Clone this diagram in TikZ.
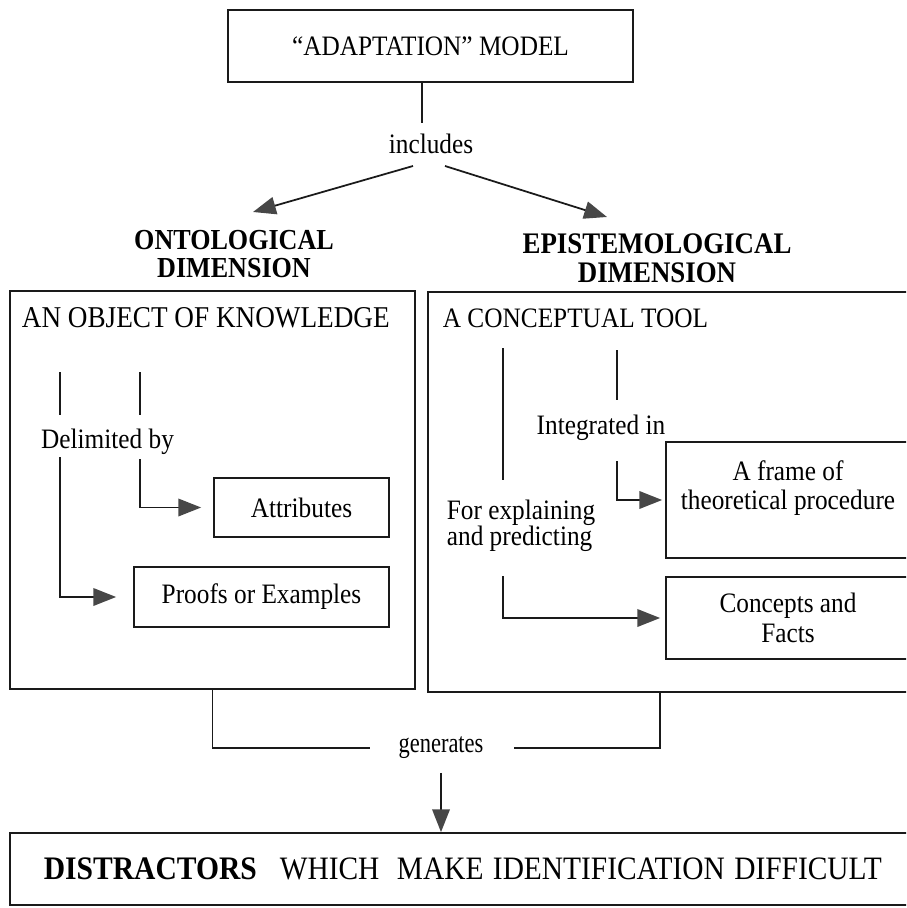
\documentclass[tikz,border=0pt]{standalone}
\usepackage{fontspec}
\setmainfont{Liberation Serif}[FakeStretch=0.9]
\newfontfamily\narrowfont{Liberation Serif}[FakeStretch=0.8]
\usetikzlibrary{arrows.meta,positioning}
\definecolor{adaptink}{HTML}{1A1A1A}
\definecolor{adapttip}{HTML}{474747}

\begin{document}
\begin{tikzpicture}[x=0.02cm,y=-0.02cm,line width=1pt,
    font=\fontsize{16}{17}\selectfont,
    box/.style={draw=adaptink,inner sep=0pt,align=center},
    lbl/.style={inner sep=0pt,align=center},
    head/.style={lbl,font=\fontsize{16.5}{16}\selectfont\bfseries},
    arr/.style={draw=adaptink,-{Triangle[length=13pt,width=10pt,color=adapttip]}}]
  \clip (0,0) rectangle (906,908);
  % top of the model
  \node[box,minimum width=8.1cm,minimum height=1.44cm] (model) at (430.5,46) {“ADAPTATION” MODEL};
  \node[lbl] (incl) at (431,144) {includes};
  \coordinate (inclTop) at (422,123);
  \draw[adaptink] (inclTop |- model.south) -- (inclTop);
  \coordinate (inclL) at (413,166);
  \coordinate (inclR) at (445,166);
  \coordinate (ontoTip) at (253,212);
  \coordinate (epiTip) at (607,217);
  \draw[arr] (inclL) -- (ontoTip);
  \draw[arr] (inclR) -- (epiTip);
  \node[head] (onto) at (234,254) {ONTOLOGICAL\\DIMENSION};
  \node[head,font=\fontsize{17}{16.5}\selectfont\bfseries] (epi) at (657,258) {EPISTEMOLOGICAL\\DIMENSION};
  % the two dimensions
  \node[box,minimum width=8.1cm,minimum height=7.96cm] (leftbox) at (212.5,490) {};
  \node[box,minimum width=9.74cm,minimum height=8cm] (rightbox) at (671.5,492) {};
  \node[lbl,anchor=west,font=\fontsize{17.2}{18}\selectfont] (object) at (21,318) {AN OBJECT OF KNOWLEDGE};
  \node[lbl,anchor=west] (tool) at (442,318) {A CONCEPTUAL TOOL};
  % ontological side
  \node[lbl] (delim) at (107.5,442) {Delimited by};
  \coordinate (delimA) at (60,372);
  \coordinate (delimB) at (140,372);
  \coordinate (delimC) at (60,457);
  \coordinate (delimD) at (140,459);
  \draw[adaptink] (delimA) -- ++(0,43);
  \draw[adaptink] (delimB) -- ++(0,43);
  \node[box,minimum width=3.5cm,minimum height=1.18cm] (attr) at (301.5,507.5) {Attributes};
  \node[box,minimum width=5.1cm,minimum height=1.2cm] (proofs) at (261.5,597) {Proofs or Examples};
  \draw[arr,shorten >=0.24cm] (delimD) |- (attr.west);
  \draw[arr,shorten >=0.34cm] (delimC) |- (proofs.west);
  % epistemological side
  \node[lbl] (integ) at (601,428) {Integrated in};
  \coordinate (explA) at (503,348);
  \coordinate (integA) at (617,350);
  \coordinate (integB) at (617,461);
  \coordinate (explB) at (503,576);
  \draw[adaptink] (explA) -- ++(0,132);
  \draw[adaptink] (integA) -- ++(0,50);
  \node[lbl,anchor=west,align=left,font=\fontsize{16}{15}\selectfont] (expl) at (446,526) {For explaining\\and predicting};
  \node[box,minimum width=4.88cm,minimum height=2.32cm] (frame) at (788,500) {A frame of\\theoretical procedure\\\mbox{}};
  \node[box,minimum width=4.88cm,minimum height=1.64cm] (concepts) at (788,618) {Concepts and\\Facts};
  \draw[arr,shorten >=0.06cm] (integB) |- (frame.west);
  \draw[arr,shorten >=0.1cm] (explB) |- (concepts.west);
  % what both generate
  \node[lbl,font=\narrowfont\fontsize{16}{17}\selectfont] (gen) at (441,748) {generates};
  \coordinate (genR) at (660,692);
  \draw[adaptink] (leftbox.south) |- ([xshift=-0.55cm]gen.west);
  \draw[adaptink] (genR) |- ([xshift=0.6cm]gen.east);
  \node[box,anchor=west,minimum height=1.44cm,inner xsep=0.68cm,text width=17.5cm,align=left] (dist) at (9,869)
    {{\fontsize{18.7}{20}\selectfont\bfseries DISTRACTORS}\hspace{13pt}\fontsize{18.6}{20}\selectfont WHICH\hspace{10pt}MAKE IDENTIFICATION DIFFICULT};
  \draw[arr,shorten <=0.26cm] (gen.south) -- (gen.south |- dist.north);
\end{tikzpicture}
\end{document}
